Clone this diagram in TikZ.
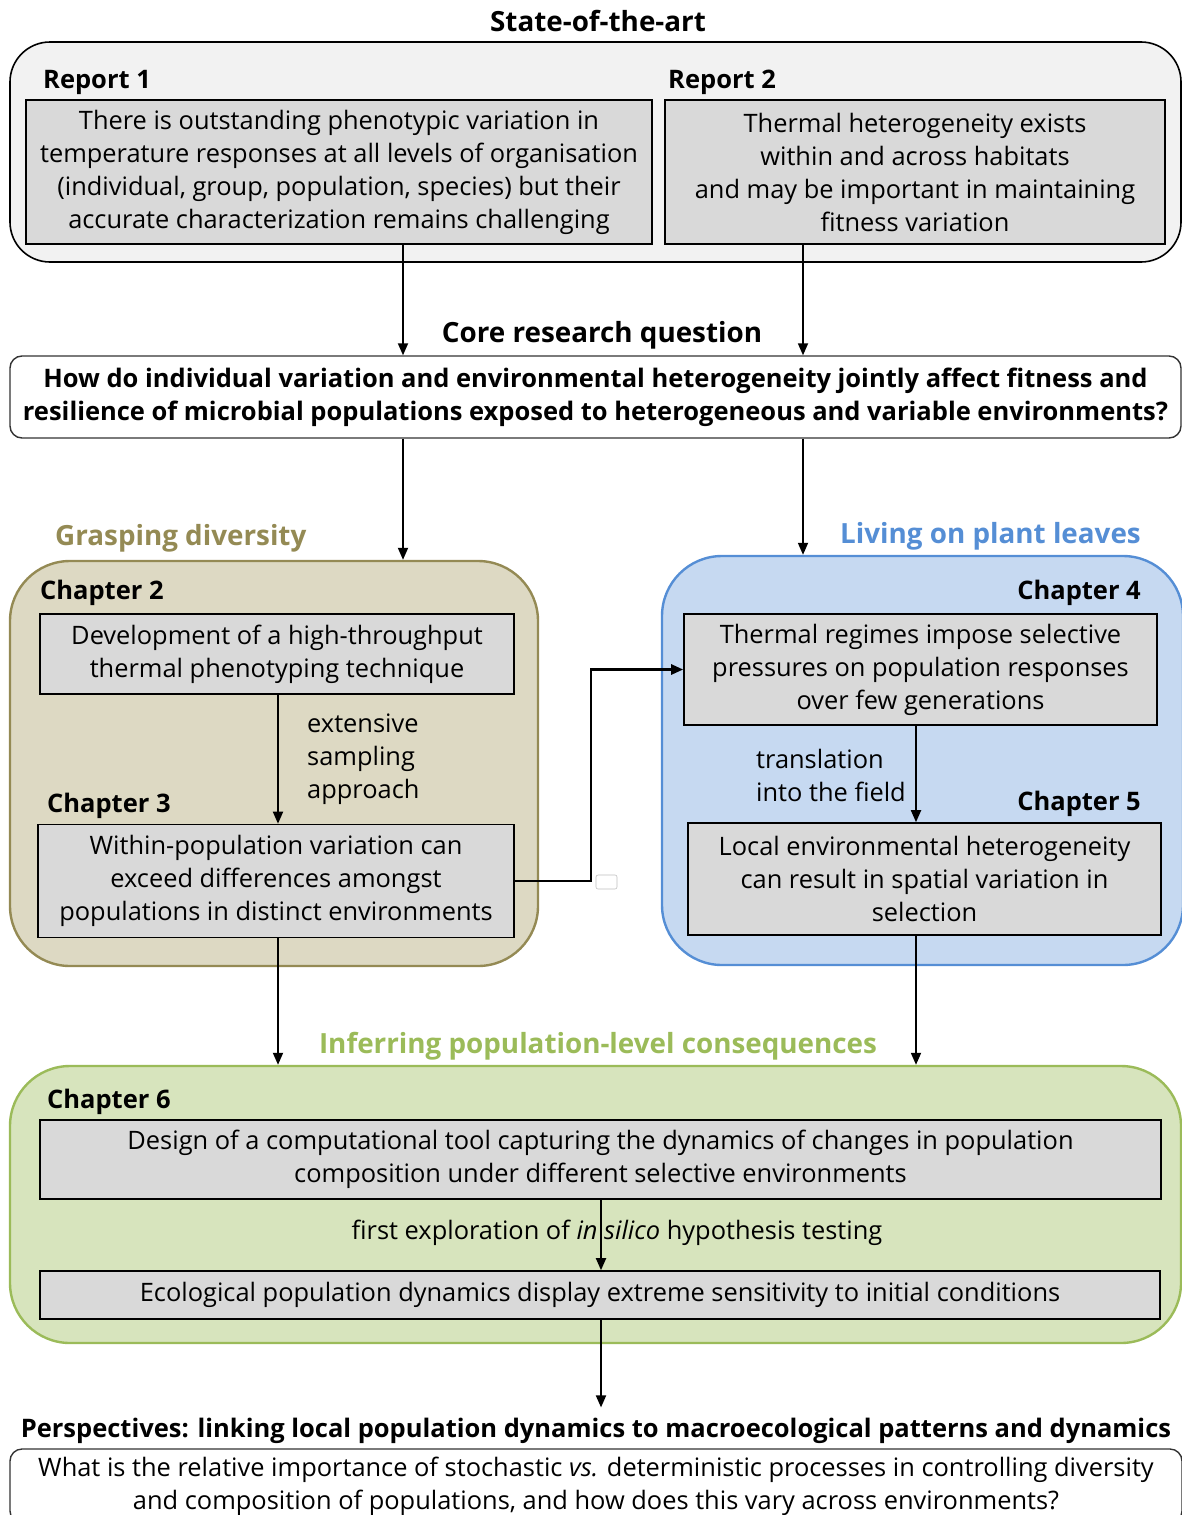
\documentclass[tikz,border=0pt]{standalone}
\usepackage{fontspec}
\setmainfont{Open Sans}
\usepackage{tikz}
\usetikzlibrary{arrows.meta,positioning}
\definecolor{sotafill}{HTML}{F2F2F2}
\definecolor{boxgray}{HTML}{D9D9D9}
\definecolor{divfill}{HTML}{DDD9C3}
\definecolor{divline}{HTML}{948A54}
\definecolor{leaffill}{HTML}{C6D9F1}
\definecolor{leafline}{HTML}{558ED5}
\definecolor{popfill}{HTML}{D7E4BD}
\definecolor{popline}{HTML}{9BBB59}
\newcommand{\txtsize}{\fontsize{25.4}{33}\selectfont}
\newcommand{\hdsize}{\fontsize{25.5}{33}\selectfont\bfseries}
\newcommand{\themesize}{\fontsize{27.8}{33}\selectfont\bfseries}

\begin{document}
\begin{tikzpicture}[x=1pt,y=-1pt,
  panel/.style={draw=black,fill=sotafill,line width=1.6pt,rounded corners=40pt,inner sep=0pt},
  finding/.style={draw=black,fill=boxgray,line width=1.6pt,align=center,font=\txtsize,inner sep=0pt},
  qbox/.style={draw=black!80,fill=white,line width=1.4pt,rounded corners=12pt,align=center,inner sep=0pt},
  heading/.style={font=\hdsize,inner sep=0pt},
  theme/.style={font=\themesize,inner sep=0pt},
  note/.style={font=\txtsize,align=left,inner sep=0pt},
  flow/.style={-{Triangle[length=12pt,width=10pt]},line width=1.8pt}
]
\useasboundingbox (0,0) rectangle (1182,1515);

% state of the art
\node[theme,anchor=base] (sota) at (598,31) {State-of-the-art};
\node[panel,minimum width=1171pt,minimum height=220pt] (sotapanel) at (595.5,152) {};
\node[heading,anchor=base west] (rep1lab) at (43,88) {Report 1};
\node[heading,anchor=base west] (rep2lab) at (668,88) {Report 2};
\node[finding,minimum width=626pt,minimum height=144pt] (rep1) at (339,172)
  {There is outstanding phenotypic variation in\\
   temperature responses at all levels of organisation\\
   (individual, group, population, species) but their\\
   accurate characterization remains challenging};
\node[finding,minimum width=500pt,minimum height=144pt] (rep2) at (915,172)
  {Thermal heterogeneity exists\\
   within and across habitats\\
   and may be important in maintaining\\
   fitness variation};

% columns used by the vertical connectors
\coordinate (colL) at (403,0);
\coordinate (colR) at (803,0);
\coordinate (colM) at (278,0);
\coordinate (colF) at (916,0);
\coordinate (colC) at (601,0);
\coordinate (jog) at (591,0);

% core question
\node[theme,anchor=base] (corelab) at (602,342) {Core research question};
\node[qbox,font=\hdsize,minimum width=1171pt,minimum height=82pt] (quest) at (595.5,397)
  {How do individual variation and environmental heterogeneity jointly affect fitness and\\
   resilience of microbial populations exposed to heterogeneous and variable environments?};
\draw[flow] (rep1.south -| colL) -- (quest.north -| colL);
\draw[flow] (rep2.south -| colR) -- (quest.north -| colR);

% grasping diversity
\node[theme,anchor=base west,text=divline] (divlab) at (55,545) {Grasping diversity};
\node[panel,draw=divline,fill=divfill,line width=2.4pt,minimum width=528pt,minimum height=405pt,rounded corners=60pt] (divpanel) at (274,763.5) {};
\node[heading,anchor=base west] (ch2lab) at (40,599) {Chapter 2};
\node[finding,minimum width=474pt,minimum height=80pt] (ch2) at (277,654)
  {Development of a high-throughput\\thermal phenotyping technique};
\node[heading,anchor=base west] (ch3lab) at (47,812) {Chapter 3};
\node[finding,minimum width=476pt,minimum height=113pt] (ch3) at (276,881)
  {Within-population variation can\\exceed differences amongst\\populations in distinct environments};
\node[note,anchor=west] (sampling) at (307,759) {extensive\\sampling\\approach};
\draw[flow] (ch2.south -| colM) -- (ch3.north -| colM);

% living on plant leaves
\node[theme,anchor=base east,text=leafline] (leaflab) at (1141,543) {Living on plant leaves};
\node[panel,draw=leafline,fill=leaffill,line width=2.4pt,minimum width=521pt,minimum height=409pt,rounded corners=60pt] (leafpanel) at (922.5,760.5) {};
\node[heading,anchor=base east] (ch4lab) at (1141,599) {Chapter 4};
\node[finding,minimum width=473pt,minimum height=111pt] (ch4) at (920.5,669.5)
  {Thermal regimes impose selective\\pressures on population responses\\over few generations};
\node[heading,anchor=base east] (ch5lab) at (1141,810) {Chapter 5};
\node[finding,minimum width=473pt,minimum height=112pt] (ch5) at (924.5,879)
  {Local environmental heterogeneity\\can result in spatial variation in\\selection};
\node[note,anchor=west] (field) at (756,775) {translation\\into the field};
\draw[flow] (ch4.south -| colF) -- (ch5.north -| colF);

\draw[flow] (quest.south -| colL) -- (divpanel.north -| colL);
\draw[flow] (quest.south -| colR) -- (leafpanel.north -| colR);
\draw[flow,line width=2.6pt] (ch3.east) -- (ch3.east -| jog) |- (ch4.west);
\node[draw=black!25,line width=0.6pt,rounded corners=2pt,minimum width=21pt,minimum height=14pt,inner sep=0pt] (blank) at (606.5,882) {};

% population-level consequences
\node[theme,anchor=base,text=popline] (poplab) at (598,1053) {Inferring population-level consequences};
\node[panel,draw=popline,fill=popfill,line width=2.4pt,minimum width=1171pt,minimum height=277pt,rounded corners=60pt] (poppanel) at (595.5,1204.5) {};
\node[heading,anchor=base west] (ch6lab) at (47,1108) {Chapter 6};
\node[finding,minimum width=1121pt,minimum height=79pt] (ch6a) at (600.5,1159.5)
  {Design of a computational tool capturing the dynamics of changes in population\\
   composition under different selective environments};
\node[finding,minimum width=1120pt,minimum height=48pt] (ch6b) at (600,1295)
  {Ecological population dynamics display extreme sensitivity to initial conditions};
\node[font=\txtsize,inner sep=0pt] (insilico) at (617,1233)
  {first exploration of \textit{in silico} hypothesis testing};
\draw[flow] (ch6a.south -| colC) -- (ch6b.north -| colC);
\draw[flow] (ch3.south -| colM) -- (poppanel.north -| colM);
\draw[flow] (ch5.south -| colF) -- (poppanel.north -| colF);

% perspectives
\node[heading,anchor=base] (persplab) at (596,1437)
  {Perspectives: linking local population dynamics to macroecological patterns and dynamics};
\node[qbox,font=\txtsize,minimum width=1172pt,minimum height=74pt] (persp) at (596,1486)
  {What is the relative importance of stochastic \textit{vs.} deterministic processes in controlling diversity\\
   and composition of populations, and how does this vary across environments?};
\draw[flow] (ch6b.south -| colC) -- ([yshift=10pt]persplab.north -| colC);
\end{tikzpicture}
\end{document}
